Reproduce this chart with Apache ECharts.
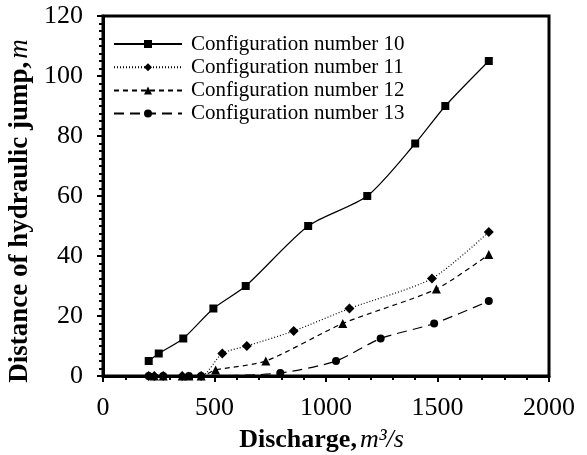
<!DOCTYPE html>
<html lang="en">
<head>
  <meta charset="UTF-8">
  <title>Hydraulic jump distance</title>
  <style>
    html, body { margin: 0; width: 100%; height: 100%; background: #fff; }
    #chart { width: 587px; height: 455px; }
  </style>
</head>
<body>
  <div id="chart"></div>
  <script src="https://cdn.jsdelivr.net/npm/echarts@6/dist/echarts.min.js"></script>
  <script>
    // discharge (m3/s) / distance (m) per configuration
    var config10 = [[205, 5], [250, 7.5], [360, 12.5], [495, 22.5], [640, 30], [920, 50], [1185, 60], [1400, 77.5], [1535, 90], [1730, 105]];
    var config11 = [[205, 0], [230, 0], [270, 0], [355, 0], [440, 0], [535, 7.5], [645, 10], [855, 15], [1105, 22.5], [1475, 32.5], [1730, 48]];
    var config12 = [[230, 0], [270, 0], [355, 0], [385, 0], [440, 0], [505, 2], [730, 5], [1075, 17.5], [1495, 29], [1730, 40.5]];
    var config13 = [[205, 0], [270, 0], [385, 0], [440, 0], [795, 1], [1045, 5], [1245, 12.5], [1485, 17.5], [1730, 25]];
    var names = ['Configuration number 10', 'Configuration number 11', 'Configuration number 12', 'Configuration number 13'];

    var myChart = echarts.init(document.getElementById('chart'));
    var font = "'Liberation Serif', serif";

    function line(name, data, symbol, size, type) {
      return {
        name: name,
        type: 'line',
        data: data,
        smooth: 0.25,
        symbol: symbol,
        symbolSize: size,
        itemStyle: { color: '#000' },
        lineStyle: { color: '#000', width: 1.2, type: type },
        z: 3
      };
    }

    var option = {
      animation: false,
      textStyle: { fontFamily: font },
      grid: {
        left: 103, right: 38, top: 16, bottom: 79,
        outerBoundsMode: 'none',
        show: true, borderColor: '#000', borderWidth: 3
      },
      legend: {
        left: 108, top: 28.5,
        orient: 'vertical',
        itemWidth: 68, itemHeight: 10, itemGap: 2.2,
        textStyle: { fontFamily: font, fontSize: 21, color: '#000', padding: [0, 0, 0, 4] },
        data: names
      },
      xAxis: {
        type: 'value', min: 0, max: 2000, interval: 500,
        name: '{b|Discharge,} {i|m³/s}',
        nameLocation: 'middle', nameGap: 51,
        nameTextStyle: {
          padding: [0, 9, 0, 0],
          rich: {
            b: { fontFamily: font, fontSize: 26, fontWeight: 'bold', color: '#000' },
            i: { fontFamily: font, fontSize: 26, fontStyle: 'italic', color: '#000' }
          }
        },
        axisLine: { lineStyle: { color: '#000', width: 3 } },
        axisTick: { inside: false, length: 6, lineStyle: { color: '#000', width: 2 } },
        minorTick: { show: true, splitNumber: 5, length: 4, lineStyle: { color: '#000', width: 2 } },
        splitLine: { show: false },
        axisLabel: {
          fontFamily: font, fontSize: 26, color: '#000', margin: 19,
          formatter: function (v) { return String(v); }
        }
      },
      yAxis: {
        type: 'value', min: 0, max: 120, interval: 20,
        name: '{b|Distance of hydraulic jump,} {i|m}',
        nameLocation: 'middle', nameGap: 63,
        nameTextStyle: {
          padding: [0, 30, 0, 0],
          rich: {
            b: { fontFamily: font, fontSize: 27, fontWeight: 'bold', color: '#000' },
            i: { fontFamily: font, fontSize: 27, fontStyle: 'italic', color: '#000' }
          }
        },
        axisLine: { lineStyle: { color: '#000', width: 3 } },
        axisTick: { inside: false, length: 6, lineStyle: { color: '#000', width: 2 } },
        minorTick: { show: true, splitNumber: 8, length: 4, lineStyle: { color: '#000', width: 2 } },
        splitLine: { show: false },
        axisLabel: {
          fontFamily: font, fontSize: 26, color: '#000', margin: 20,
          formatter: function (v) { return String(v); }
        }
      },
      series: [
        line(names[0], config10, 'rect', 8, 'solid'),
        line(names[1], config11, 'diamond', 10, [1, 2]),
        line(names[2], config12, 'triangle', 9, [5, 4]),
        line(names[3], config13, 'circle', 8, [10, 6])
      ]
    };

    myChart.setOption(option);
    window.addEventListener('resize', function () {
      myChart.resize();
    });
  </script>
</body>
</html>
